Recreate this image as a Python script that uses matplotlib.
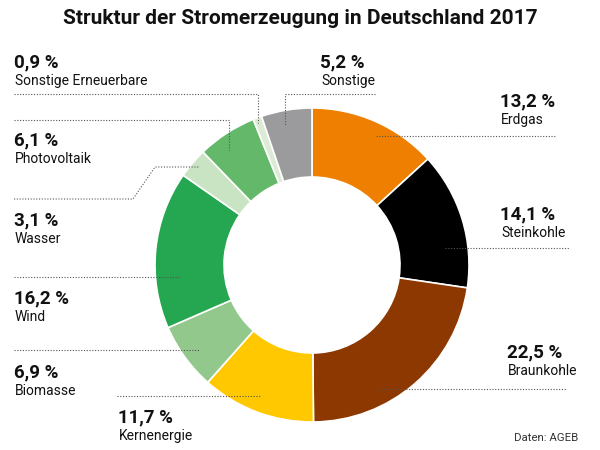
import matplotlib
matplotlib.use("Agg")
import matplotlib.pyplot as plt

# Anteile in Prozent, im Uhrzeigersinn ab 12 Uhr
quellen = ["Erdgas", "Steinkohle", "Braunkohle", "Kernenergie", "Biomasse",
           "Wind", "Wasser", "Photovoltaik", "Sonstige Erneuerbare", "Sonstige"]
anteile = [13.2, 14.1, 22.5, 11.7, 6.9, 16.2, 3.1, 6.1, 0.9, 5.2]
farben = ["#EE7F00", "#000000", "#8C3800", "#FFC800", "#92C88C",
          "#25A650", "#C9E4C2", "#64B86A", "#DCEBD6", "#9B9A9C"]
beschriftung = ["13,2 %", "14,1 %", "22,5 %", "11,7 %", "6,9 %",
                "16,2 %", "3,1 %", "6,1 %", "0,9 %", "5,2 %"]

FONT = ["Roboto", "DejaVu Sans"]
H = 450


def py(y):
    # Pixel von oben -> Datenkoordinate
    return H - y


fig = plt.figure(figsize=(6, 4.5), dpi=100)
ax = fig.add_axes([0, 0, 1, 1])

ax.pie(anteile, colors=farben, startangle=90, counterclock=False,
       center=(312, py(265)), radius=157,
       wedgeprops=dict(width=69, edgecolor="white", linewidth=1.2))

# pie() setzt eigene Grenzen, daher danach
ax.set_xlim(0, 600)
ax.set_ylim(0, H)
ax.set_aspect("equal")
ax.axis("off")

# Label-Positionen (x, y Prozentzahl) und Leitlinien
pos = {
    "Erdgas": (500, 101),
    "Steinkohle": (500, 214),
    "Braunkohle": (507, 352),
    "Kernenergie": (118, 417),
    "Biomasse": (14, 372),
    "Wind": (14, 298),
    "Wasser": (14, 220),
    "Photovoltaik": (14, 140),
    "Sonstige Erneuerbare": (14, 62),
    "Sonstige": (320, 62),
}
linien = {
    "Erdgas": [(376, 136), (556, 136)],
    "Steinkohle": [(445, 248), (570, 248)],
    "Braunkohle": [(378, 389), (567, 389)],
    "Kernenergie": [(117, 396), (260, 396)],
    "Biomasse": [(14, 350), (200, 350)],
    "Wind": [(14, 277), (180, 277)],
    "Wasser": [(14, 199), (133, 199), (155, 167), (200, 167)],
    "Photovoltaik": [(14, 120), (229, 120), (229, 150)],
    "Sonstige Erneuerbare": [(14, 94), (258, 94), (258, 123)],
    "Sonstige": [(375, 94), (285, 94), (285, 125)],
}

for name, pct in zip(quellen, beschriftung):
    x, y = pos[name]
    ax.text(x, py(y), pct, fontsize=13.5, fontweight="bold", color="#111111",
            family=FONT, va="center", ha="left")
    ax.text(x + 1, py(y + 19), name, fontsize=10, color="#111111",
            family=FONT, va="center", ha="left")
    xs = [p[0] for p in linien[name]]
    ys = [py(p[1]) for p in linien[name]]
    ax.plot(xs, ys, color="#555555", linewidth=0.8, linestyle=(0, (1, 1.5)))

ax.text(300, py(18), "Struktur der Stromerzeugung in Deutschland 2017",
        fontsize=15, fontweight="bold", color="#111111", family=FONT,
        ha="center", va="center")
ax.text(578, py(438), "Daten: AGEB", fontsize=8.2, color="#333333",
        family=FONT, ha="right", va="center")

fig.savefig("out.png", dpi=100)
